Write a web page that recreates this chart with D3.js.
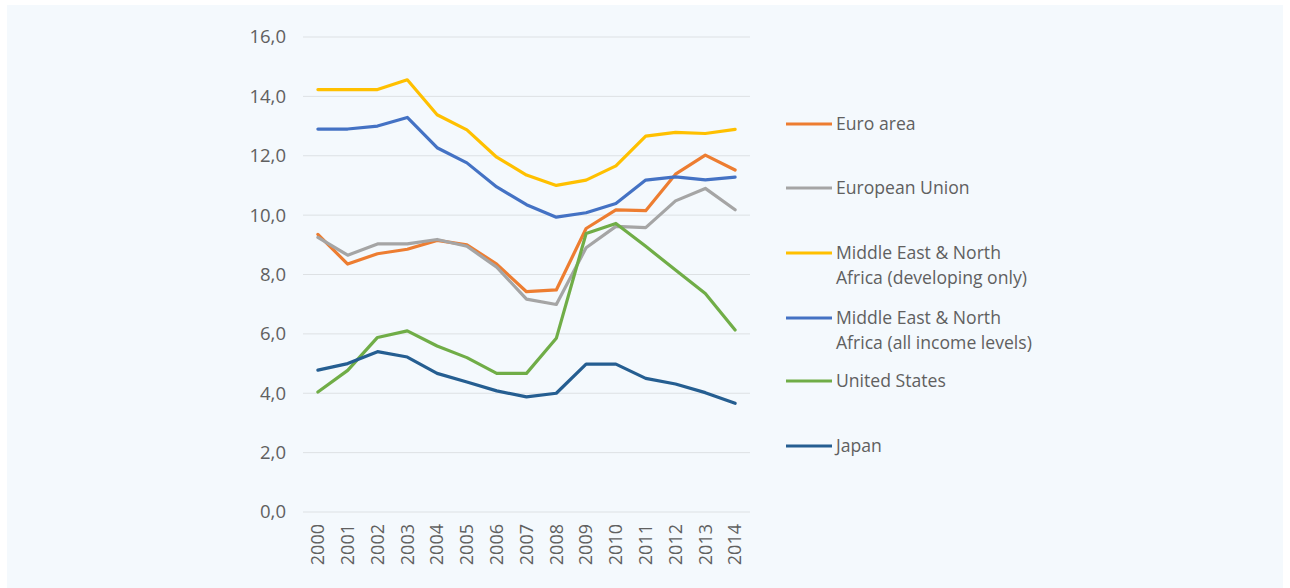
<!DOCTYPE html>
<html>
<head>
<meta charset="utf-8">
<script src="https://cdn.jsdelivr.net/npm/d3@7"></script>
<style>
  html, body { margin: 0; padding: 0; background: #fff; }
  svg { display: block; }
  text { font-family: "Open Sans", "Noto Sans", sans-serif; fill: #606060; }
</style>
</head>
<body>
<div id="chart"></div>
<script>
const years = ['2000','2001','2002','2003','2004','2005','2006','2007','2008','2009','2010','2011','2012','2013','2014'];
const yTicks = [0, 2, 4, 6, 8, 10, 12, 14, 16];

const euroArea = [9.35, 8.35, 8.7, 8.85, 9.15, 9.0, 8.35, 7.42, 7.48, 9.55, 10.18, 10.15, 11.38, 12.02, 11.52];
const europeanUnion = [9.25, 8.65, 9.03, 9.03, 9.18, 8.95, 8.25, 7.17, 6.99, 8.9, 9.62, 9.58, 10.48, 10.9, 10.18];
const menaDeveloping = [14.23, 14.23, 14.23, 14.56, 13.38, 12.87, 11.95, 11.35, 11.0, 11.18, 11.66, 12.66, 12.79, 12.75, 12.89];
const menaAll = [12.9, 12.9, 13.0, 13.29, 12.27, 11.76, 10.95, 10.35, 9.93, 10.08, 10.39, 11.18, 11.29, 11.19, 11.28];
const unitedStates = [4.04, 4.77, 5.88, 6.1, 5.59, 5.2, 4.67, 4.67, 5.85, 9.38, 9.72, 8.95, 8.15, 7.36, 6.13];
const japan = [4.78, 5.0, 5.4, 5.22, 4.67, 4.38, 4.08, 3.88, 4.0, 4.98, 4.98, 4.5, 4.31, 4.02, 3.66];

const series = [
  { name: ['Euro area'], values: euroArea, color: '#ED7D31' },
  { name: ['European Union'], values: europeanUnion, color: '#A5A5A5' },
  { name: ['Middle East & North', 'Africa (developing only)'], values: menaDeveloping, color: '#FFC000' },
  { name: ['Middle East & North', 'Africa (all income levels)'], values: menaAll, color: '#4472C4' },
  { name: ['United States'], values: unitedStates, color: '#70AD47' },
  { name: ['Japan'], values: japan, color: '#255E91' }
];

const W = 1290, H = 588;
const svg = d3.select('#chart').append('svg').attr('width', W).attr('height', H);

svg.append('rect')
  .attr('x', 7).attr('y', 5)
  .attr('width', W - 14).attr('height', H - 5)
  .attr('fill', '#f4f9fd');

const x = d3.scalePoint().domain(years).range([303, 750]).padding(0.5);
const y = d3.scaleLinear().domain([0, 16]).range([512, 37]);

// grid
svg.append('g')
  .selectAll('line')
  .data(yTicks)
  .join('line')
  .attr('x1', 303).attr('x2', 750)
  .attr('y1', d => y(d)).attr('y2', d => y(d))
  .attr('stroke', '#dde1e4')
  .attr('stroke-width', 1);

// y labels
svg.append('g')
  .selectAll('text')
  .data(yTicks)
  .join('text')
  .attr('x', 286)
  .attr('y', d => y(d))
  .attr('dy', '0.35em')
  .attr('text-anchor', 'end')
  .attr('font-size', 18.5)
  .text(d => d3.format('.1f')(d).replace('.', ','));

// x labels
svg.append('g')
  .selectAll('text')
  .data(years)
  .join('text')
  .attr('transform', d => `translate(${x(d)},524) rotate(-90)`)
  .attr('dy', '0.35em')
  .attr('text-anchor', 'end')
  .attr('font-size', 18)
  .text(d => d);

const line = d3.line().x((d, i) => x(years[i])).y(d => y(d));

svg.append('g')
  .selectAll('path')
  .data(series)
  .join('path')
  .attr('fill', 'none')
  .attr('stroke', d => d.color)
  .attr('stroke-width', 3.2)
  .attr('stroke-linejoin', 'round')
  .attr('stroke-linecap', 'round')
  .attr('d', d => line(d.values));

// legend
const legendY = [124, 188, 253, 318, 381, 446];
const lg = svg.append('g')
  .selectAll('g')
  .data(series)
  .join('g')
  .attr('transform', (d, i) => `translate(0,${legendY[i]})`);

lg.append('line')
  .attr('x1', 786).attr('x2', 832)
  .attr('stroke', d => d.color)
  .attr('stroke-width', 3);

lg.each(function(d) {
  const t = d3.select(this).append('text')
    .attr('x', 836)
    .attr('font-size', 17.6);
  d.name.forEach((s, j) => {
    t.append('tspan')
      .attr('x', 836)
      .attr('y', j * 25)
      .attr('dy', '0.35em')
      .text(s);
  });
});
</script>
</body>
</html>
